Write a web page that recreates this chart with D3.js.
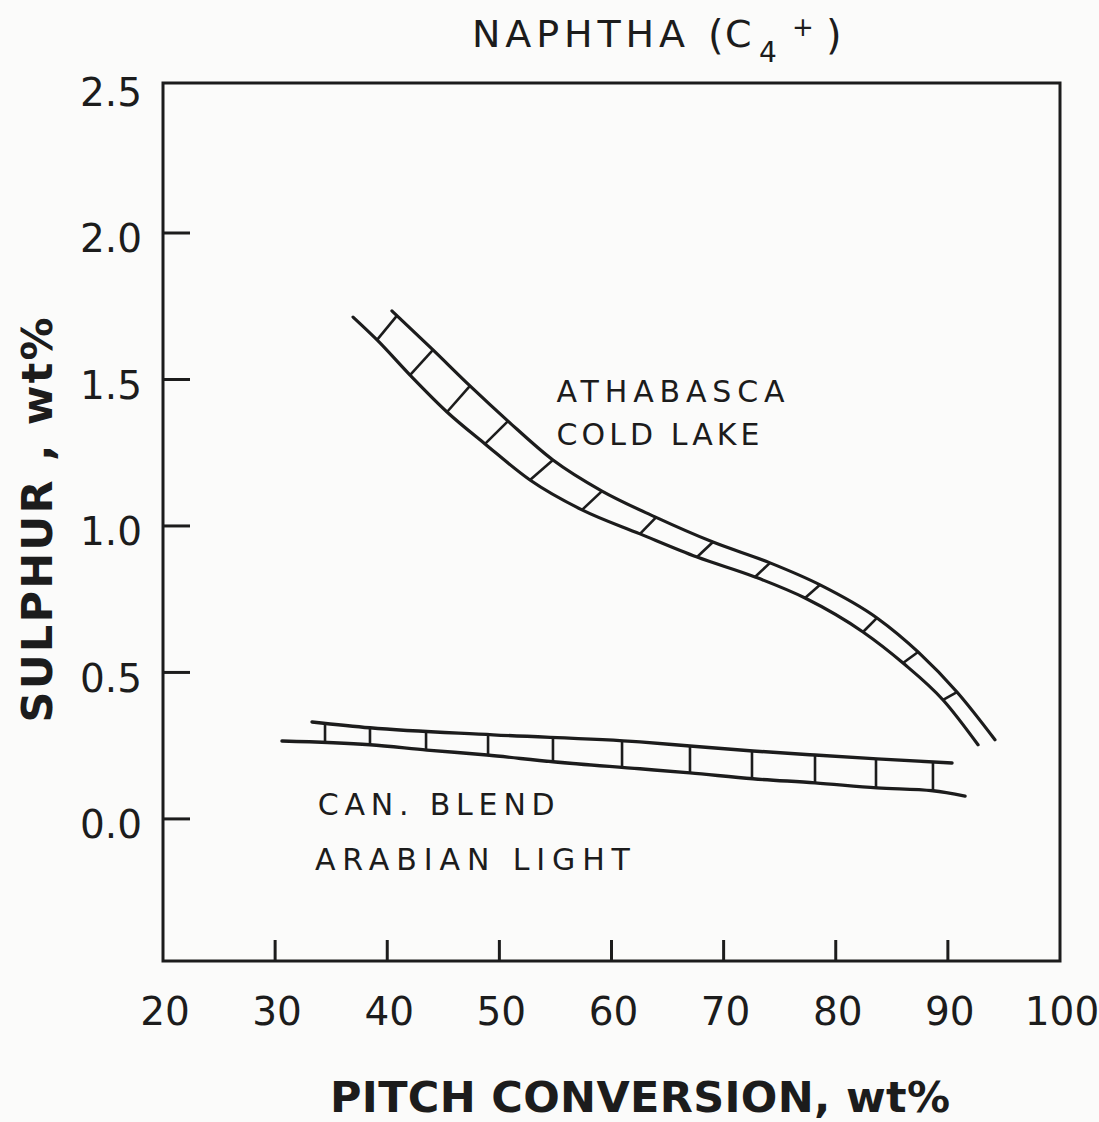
<!DOCTYPE html>
<html><head><meta charset="utf-8">
<script src="https://cdn.jsdelivr.net/npm/d3@7"></script>
<style>
html,body{margin:0;padding:0;background:#fbfbfa;}
svg{display:block;}
text{font-family:"DejaVu Sans",sans-serif;fill:#1c1c1c;}
</style></head><body>
<svg id="chart" width="1099" height="1122"></svg>
<script>
// ---- data ----
const xTitle = "PITCH CONVERSION, wt%";
const yTitle = "SULPHUR , wt%";
const xTickValues = [20, 30, 40, 50, 60, 70, 80, 90, 100];
const xTickLabels = ["20", "30", "40", "50", "60", "70", "80", "90", "100"];
const xInnerTicks = [30, 40, 50, 60, 70, 80, 90];
const yTickValues = [0, 0.5, 1.0, 1.5, 2.0, 2.5];
const yTickLabels = ["0.0", "0.5", "1.0", "1.5", "2.0", "2.5"];
const yInnerTicks = [0, 0.5, 1.0, 1.5, 2.0];

// Athabasca / Cold Lake band
const athaLowerX = [36.95, 39.09, 42.03, 45.33, 48.72, 52.73, 57.37, 62.54, 67.63, 72.80, 77.26, 82.43, 86.00, 89.57, 92.69];
const athaLowerY = [1.713, 1.635, 1.515, 1.389, 1.280, 1.157, 1.055, 0.973, 0.894, 0.826, 0.754, 0.638, 0.532, 0.406, 0.253];
const athaUpperX = [40.42, 44.08, 47.38, 50.77, 54.78, 59.15, 63.88, 69.05, 74.14, 78.60, 83.68, 87.34, 90.81, 94.20];
const athaUpperY = [1.734, 1.601, 1.478, 1.358, 1.225, 1.119, 1.031, 0.945, 0.874, 0.799, 0.686, 0.570, 0.433, 0.270];
const athaRungLowerX = [39.09, 42.03, 45.33, 48.72, 52.73, 57.37, 62.54, 67.63, 72.80, 77.26, 82.43, 86.00, 89.57];
const athaRungUpperX = [40.87, 44.08, 47.38, 50.77, 54.78, 59.15, 63.97, 69.05, 74.14, 78.60, 83.68, 87.34, 90.81];

// Can. Blend / Arabian Light band
const canUpperX = [33.29, 38.46, 49.43, 62.54, 67.00, 72.62, 78.15, 83.68, 90.37];
const canUpperY = [0.331, 0.311, 0.287, 0.263, 0.249, 0.232, 0.218, 0.205, 0.191];
const canLowerX = [30.61, 38.46, 43.55, 48.90, 54.78, 62.54, 67.00, 72.62, 78.15, 83.68, 88.67, 91.53];
const canLowerY = [0.266, 0.253, 0.235, 0.218, 0.195, 0.171, 0.157, 0.137, 0.123, 0.106, 0.096, 0.078];
const canRungX = [34.45, 38.46, 43.46, 48.99, 54.78, 60.94, 67.00, 72.53, 78.15, 83.59, 88.67];

const seriesLabelText = ["ATHABASCA", "COLD LAKE", "CAN. BLEND", "ARABIAN LIGHT"];
const seriesLabelX = [55.1, 55.1, 33.8, 33.55];
const seriesLabelY = [1.423, 1.276, 0.013, -0.175];
const seriesLabelLen = [228, 203, 237, 315];

// ---- chart ----
const ink = "#1c1c1c";
const svg = d3.select("#chart");
const x = d3.scaleLinear().domain([20, 100]).range([163, 1060]);
const y = d3.scaleLinear().domain([-0.485, 2.512]).range([961, 83]);

const zip = (xs, ys) => xs.map((v, i) => [v, ys[i]]);
const line = d3.line().x(d => x(d[0])).y(d => y(d[1])).curve(d3.curveMonotoneX);

// frame
svg.append("rect")
  .attr("x", x(20)).attr("y", y(2.512))
  .attr("width", x(100) - x(20)).attr("height", y(-0.485) - y(2.512))
  .attr("fill", "none").attr("stroke", ink).attr("stroke-width", 3);

// inward ticks
svg.append("g").selectAll("line").data(xInnerTicks).join("line")
  .attr("x1", d => x(d)).attr("x2", d => x(d))
  .attr("y1", y(-0.485)).attr("y2", y(-0.485) - 21)
  .attr("stroke", ink).attr("stroke-width", 3);
svg.append("g").selectAll("line").data(yInnerTicks).join("line")
  .attr("x1", x(20)).attr("x2", x(20) + 27)
  .attr("y1", d => y(d)).attr("y2", d => y(d))
  .attr("stroke", ink).attr("stroke-width", 3);

// tick labels
svg.append("g").selectAll("text").data(xTickValues).join("text")
  .attr("x", d => x(d) + 2).attr("y", 1025)
  .attr("text-anchor", "middle").attr("font-size", 39)
  .text((d, i) => xTickLabels[i]);
svg.append("g").selectAll("text").data(yTickValues).join("text")
  .attr("x", 142).attr("y", d => y(d) + 9)
  .attr("dominant-baseline", "middle")
  .attr("text-anchor", "end").attr("font-size", 39)
  .text((d, i) => yTickLabels[i]);

// axis titles
svg.append("text").attr("x", 330).attr("y", 1112)
  .attr("font-size", 43).attr("font-weight", "bold")
  .attr("textLength", 620).attr("lengthAdjust", "spacing")
  .text(xTitle);
svg.append("text")
  .attr("transform", "translate(52,520) rotate(-90)")
  .attr("text-anchor", "middle")
  .attr("font-size", 43).attr("font-weight", "bold")
  .attr("textLength", 405).attr("lengthAdjust", "spacing")
  .text(yTitle);

// title
const tg = svg.append("g");
tg.append("text").attr("x", 472).attr("y", 47).attr("font-size", 38)
  .attr("textLength", 213).attr("lengthAdjust", "spacing").text("NAPHTHA");
tg.append("text").attr("x", 708).attr("y", 49).attr("font-size", 40).text("(");
tg.append("text").attr("x", 725).attr("y", 47).attr("font-size", 38).text("C");
tg.append("text").attr("x", 759).attr("y", 62).attr("font-size", 28).text("4");
tg.append("text").attr("x", 792).attr("y", 36).attr("font-size", 26).text("+");
tg.append("text").attr("x", 826).attr("y", 49).attr("font-size", 40).text(")");

// curves
function drawPath(pts, w) {
  return svg.append("path").datum(pts).attr("d", line)
    .attr("fill", "none").attr("stroke", ink).attr("stroke-width", w)
    .attr("stroke-linecap", "round");
}
function pointAtX(node, px) {
  const L = node.getTotalLength();
  let lo = 0, hi = L;
  for (let k = 0; k < 40; k++) {
    const mid = (lo + hi) / 2;
    if (node.getPointAtLength(mid).x < px) lo = mid; else hi = mid;
  }
  return node.getPointAtLength((lo + hi) / 2);
}

const aLow = drawPath(zip(athaLowerX, athaLowerY), 3.2).node();
const aUp = drawPath(zip(athaUpperX, athaUpperY), 3.2).node();
const cUp = drawPath(zip(canUpperX, canUpperY), 3.4).node();
const cLow = drawPath(zip(canLowerX, canLowerY), 3.4).node();

svg.append("g").selectAll("line").data(athaRungLowerX).join("line")
  .each(function(d, i) {
    const p1 = pointAtX(aLow, x(d));
    const p2 = pointAtX(aUp, x(athaRungUpperX[i]));
    d3.select(this).attr("x1", p1.x).attr("y1", p1.y).attr("x2", p2.x).attr("y2", p2.y);
  })
  .attr("stroke", ink).attr("stroke-width", 2.6);

svg.append("g").selectAll("line").data(canRungX).join("line")
  .each(function(d) {
    const p1 = pointAtX(cUp, x(d));
    const p2 = pointAtX(cLow, x(d));
    d3.select(this).attr("x1", p1.x).attr("y1", p1.y).attr("x2", p2.x).attr("y2", p2.y);
  })
  .attr("stroke", ink).attr("stroke-width", 2.6);

// series labels
svg.append("g").selectAll("text").data(seriesLabelText).join("text")
  .attr("x", (d, i) => x(seriesLabelX[i])).attr("y", (d, i) => y(seriesLabelY[i]))
  .attr("font-size", 30)
  .attr("textLength", (d, i) => seriesLabelLen[i]).attr("lengthAdjust", "spacing")
  .text(d => d);
</script>
</body></html>
